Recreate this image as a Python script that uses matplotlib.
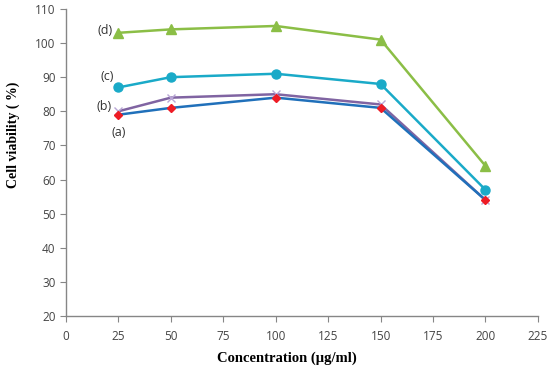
import matplotlib
matplotlib.use("Agg")
import matplotlib.pyplot as plt

conc = [25, 50, 100, 150, 200]
a_vals = [79, 81, 84, 81, 54]
b_vals = [80, 84, 85, 82, 54]
c_vals = [87, 90, 91, 88, 57]
d_vals = [103, 104, 105, 101, 64]
xticks = [0, 25, 50, 75, 100, 125, 150, 175, 200, 225]
yticks = [20, 30, 40, 50, 60, 70, 80, 90, 100, 110]

fig = plt.figure(figsize=(5.5, 3.71), dpi=100)
ax = fig.add_axes([0.12, 0.148, 0.858, 0.828])

ax.plot(conc, d_vals, color="#8BBE46", lw=1.8, marker="^", ms=6.5, mfc="#8BBE46", mec="#8BBE46")
ax.plot(conc, c_vals, color="#1AAAC8", lw=1.8, marker="o", ms=6.5, mfc="#1AAAC8", mec="#1AAAC8")
ax.plot(conc, b_vals, color="#8064A2", lw=1.8, marker="x", ms=6, mew=1.0, mec="#B9A6D6")
ax.plot(conc, a_vals, color="#2070BA", lw=1.8, marker="D", ms=4.5, mfc="#EE1C25", mec="#EE1C25")

lab_font = dict(fontsize=9, color="#333333", family="Open Sans")
ax.text(18.6, 103.8, "(d)", ha="center", va="center", **lab_font)
ax.text(19.5, 90.1, "(c)", ha="center", va="center", **lab_font)
ax.text(18.1, 81.3, "(b)", ha="center", va="center", **lab_font)
ax.text(25.3, 73.9, "(a)", ha="center", va="center", **lab_font)

ax.set_xlim(0, 225)
ax.set_ylim(20, 110)
ax.set_xticks(xticks)
ax.set_yticks(yticks)
for s in ["top", "right"]:
    ax.spines[s].set_visible(False)
for s in ["left", "bottom"]:
    ax.spines[s].set_color("#868686")
    ax.spines[s].set_linewidth(1.0)
ax.tick_params(axis="both", direction="out", length=4, color="#868686",
               labelsize=8.5, labelcolor="#444444")
ax.tick_params(axis="x", pad=6)
for lbl in ax.get_xticklabels() + ax.get_yticklabels():
    lbl.set_family("Open Sans")

ax.set_xlabel("Concentration (µg/ml)", family="Liberation Serif", fontweight="bold",
              fontsize=10.5, va="center")
ax.xaxis.set_label_coords(0.469, -0.137)
ax.set_ylabel("Cell viability ( %)", family="Liberation Serif", fontweight="bold",
              fontsize=10, va="center")
ax.yaxis.set_label_coords(-0.111, 0.59)

fig.savefig("out.png", dpi=100)
